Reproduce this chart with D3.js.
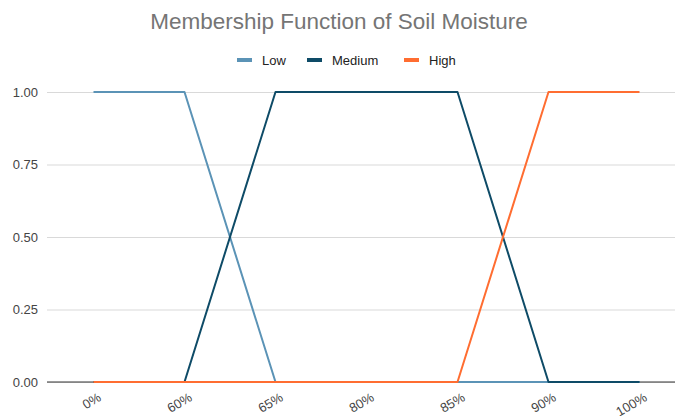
<!DOCTYPE html>
<html><head><meta charset="utf-8">
<script src="https://cdn.jsdelivr.net/npm/d3@7"></script>
<style>body{margin:0;background:#fff}svg{display:block}</style>
</head><body>
<script>
const categories = ["0%","60%","65%","80%","85%","90%","100%"];
const lowValues = [1,1,0,0,0,0,0];
const mediumValues = [0,0,1,1,1,0,0];
const highValues = [0,0,0,0,0,1,1];
const yTicks = [0,0.25,0.5,0.75,1];
const seriesNames = ["Low","Medium","High"];
const seriesColors = ["#5b93b6","#0e4b67","#ff6d31"];

const W=675,H=416;
const svg=d3.select("body").append("svg").attr("width",W).attr("height",H);
const x=d3.scalePoint().domain(categories).range([93.5,639.5]);
const y=d3.scaleLinear().domain([0,1]).range([382,92]);
const font="'Liberation Sans', Arial, sans-serif";

svg.append("text").attr("x",339).attr("y",29).attr("text-anchor","middle")
  .attr("font-family",font).attr("font-size",22.5).attr("fill","#757575")
  .text("Membership Function of Soil Moisture");

// grid
const yAxis=d3.axisLeft(y).tickValues(yTicks).tickFormat(d3.format(".2f")).tickSize(-(W-47)).tickPadding(9);
const ga=svg.append("g").attr("transform","translate(47,0)").call(yAxis);
ga.select(".domain").remove();
ga.selectAll(".tick line").attr("stroke","#d9d9d9").attr("stroke-width",1);
ga.selectAll(".tick text").attr("font-family",font).attr("font-size",13).attr("fill","#444");

// series
const data=[lowValues,mediumValues,highValues];
const line=d3.line().x((d,i)=>x(categories[i])).y(d=>y(d));
// baseline
svg.append("line").attr("x1",47).attr("x2",W).attr("y1",y(0)).attr("y2",y(0)).attr("stroke","#333").attr("stroke-width",1);
data.forEach((vals,k)=>{
  svg.append("path").datum(vals).attr("d",line).attr("fill","none")
    .attr("stroke",seriesColors[k]).attr("stroke-width",2).attr("stroke-linejoin","round");
});

// x axis labels
const xAxis=d3.axisBottom(x).tickSize(0).tickPadding(0);
const gx=svg.append("g").attr("transform",`translate(0,${y(0)})`).call(xAxis);
gx.select(".domain").remove();
gx.selectAll(".tick text").attr("font-family",font).attr("font-size",13).attr("fill","#444")
  .attr("text-anchor","end").attr("dy",0).attr("y",0)
  .attr("transform","translate(8,18) rotate(-30)");

// legend
const legX=[237,307,404];
const lg=svg.append("g");
seriesNames.forEach((n,i)=>{
  lg.append("rect").attr("x",legX[i]).attr("y",58).attr("width",15).attr("height",4).attr("fill",seriesColors[i]);
  lg.append("text").attr("x",legX[i]+25).attr("y",64.5).attr("font-family",font).attr("font-size",13).attr("fill","#222").text(n);
});
</script>
</body></html>
